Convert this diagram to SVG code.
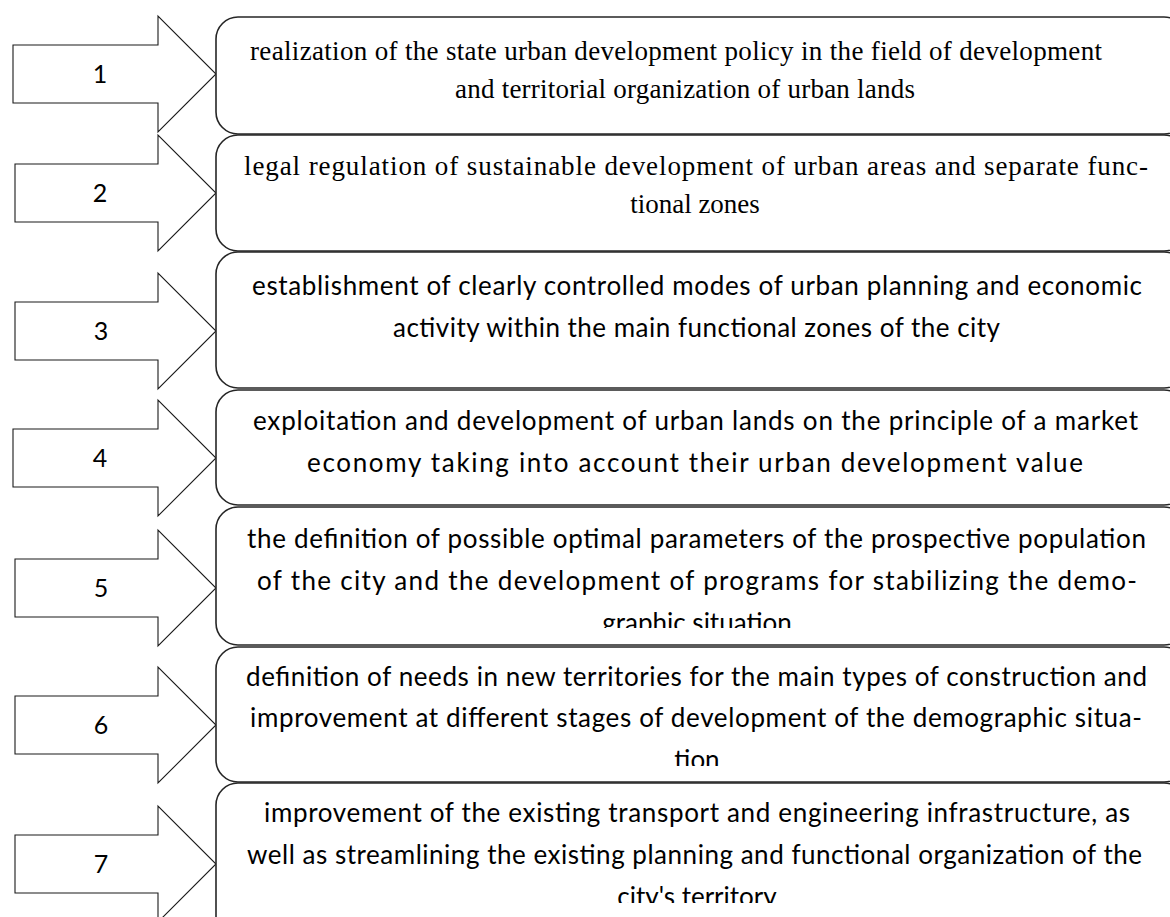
<svg xmlns="http://www.w3.org/2000/svg" width="1170" height="917" viewBox="0 0 1170 917">
  <defs>
    <style>
      .box { fill: #ffffff; stroke: #262626; stroke-width: 1.6; }
      .arrow { fill: #ffffff; stroke: #1a1a1a; stroke-width: 1.1; stroke-linejoin: miter; }
      .num { font-family: Lato, "Open Sans", "Liberation Sans", sans-serif; font-size: 25px; fill: #000; text-anchor: middle; }
      .serif { font-family: "Liberation Serif", "Times New Roman", serif; font-size: 27px; fill: #000; text-anchor: middle; }
      .sans { font-family: Lato, "Open Sans", "Liberation Sans", sans-serif; font-size: 26px; fill: #000; text-anchor: middle; }
    </style>
    <clipPath id="clip5"><rect x="216" y="507" width="970" height="121"/></clipPath>
    <clipPath id="clip6"><rect x="216" y="647" width="970" height="119"/></clipPath>
    <clipPath id="clip7"><rect x="216" y="783" width="970" height="120"/></clipPath>
  </defs>
  <rect width="1170" height="917" fill="#ffffff"/>

  <!-- numbered block arrows -->
  <g id="connectors">
    <path class="arrow" d="M13,45 H158 V16 L216,74 L158,132 V103 H13 Z"/>
    <path class="arrow" d="M15,164 H158 V135 L216,193 L158,251 V222 H15 Z"/>
    <path class="arrow" d="M15,302 H158 V273 L216,331 L158,389 V360 H15 Z"/>
    <path class="arrow" d="M13,429 H158 V400 L216,458 L158,516 V487 H13 Z"/>
    <path class="arrow" d="M15,559 H158 V530 L216,588 L158,646 V617 H15 Z"/>
    <path class="arrow" d="M15,696 H158 V667 L216,725 L158,783 V754 H15 Z"/>
    <path class="arrow" d="M15,835 H158 V806 L216,864 L158,922 V893 H15 Z"/>
    <text class="num" x="100" y="83">1</text>
    <text class="num" x="100" y="202">2</text>
    <text class="num" x="101" y="340">3</text>
    <text class="num" x="100" y="467">4</text>
    <text class="num" x="101" y="597">5</text>
    <text class="num" x="101" y="734">6</text>
    <text class="num" x="101" y="873">7</text>
  </g>

  <g id="node1">
    <rect class="box" x="216" y="17" width="970" height="117" rx="22"/>
    <text class="serif" x="676" y="60" textLength="852">realization of the state urban development policy in the field of development</text>
    <text class="serif" x="685" y="98" textLength="460">and territorial organization of urban lands</text>
  </g>

  <g id="node2">
    <rect class="box" x="216" y="135" width="970" height="116" rx="22"/>
    <text class="serif" x="696" y="175" textLength="904">legal regulation of sustainable development of urban areas and separate func-</text>
    <text class="serif" x="695" y="213">tional zones</text>
  </g>

  <g id="node3">
    <rect class="box" x="216" y="252" width="970" height="136" rx="22"/>
    <text class="sans" x="697" y="295" textLength="890">establishment of clearly controlled modes of urban planning and economic</text>
    <text class="sans" x="696.5" y="337" textLength="607">activity within the main functional zones of the city</text>
  </g>

  <g id="node4">
    <rect class="box" x="216" y="390" width="970" height="115" rx="22"/>
    <text class="sans" x="695.5" y="430" textLength="885">exploitation and development of urban lands on the principle of a market</text>
    <text class="sans" x="695" y="472" textLength="776">economy taking into account their urban development value</text>
  </g>

  <g id="node5">
    <rect class="box" x="216" y="507" width="970" height="138" rx="22"/>
    <g clip-path="url(#clip5)">
      <text class="sans" x="696.5" y="548" textLength="899">the definition of possible optimal parameters of the prospective population</text>
      <text class="sans" x="697" y="590" textLength="880">of the city and the development of programs for stabilizing the demo-</text>
      <text class="sans" x="697" y="632">graphic situation</text>
    </g>
  </g>

  <g id="node6">
    <rect class="box" x="216" y="647" width="970" height="135" rx="22"/>
    <g clip-path="url(#clip6)">
      <text class="sans" x="696.5" y="686" textLength="901">definition of needs in new territories for the main types of construction and</text>
      <text class="sans" x="696" y="727" textLength="892">improvement at different stages of development of the demographic situa-</text>
      <text class="sans" x="697" y="769">tion</text>
    </g>
  </g>

  <g id="node7">
    <rect class="box" x="216" y="783" width="970" height="160" rx="22"/>
    <g clip-path="url(#clip7)">
      <text class="sans" x="697" y="822" textLength="866">improvement of the existing transport and engineering infrastructure, as</text>
      <text class="sans" x="694.5" y="864" textLength="895">well as streamlining the existing planning and functional organization of the</text>
      <text class="sans" x="697" y="906">city's territory</text>
    </g>
  </g>
</svg>
